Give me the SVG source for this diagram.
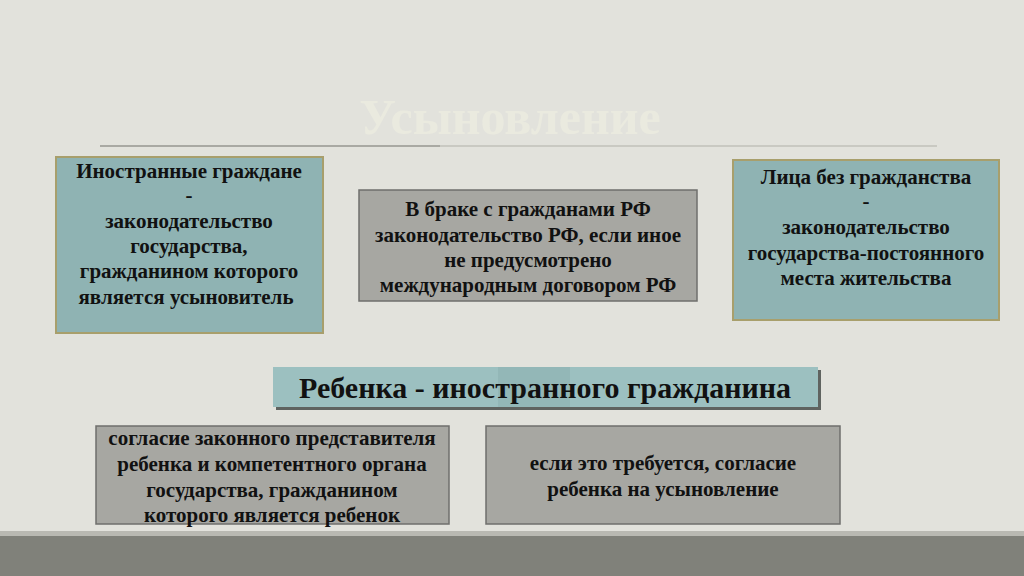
<svg xmlns="http://www.w3.org/2000/svg" width="1024" height="576" viewBox="0 0 1024 576">
<defs>
<style>
.t{font-family:"Liberation Serif","Times New Roman",serif;font-weight:bold;fill:#111;text-anchor:middle}
.s17{font-size:21px}
.teal{fill:#8fb3b3;stroke:#a89f6c;stroke-width:2}
.gray{fill:#a7a7a2;stroke:#6f6f6c;stroke-width:1.5}
</style>
</defs>
<rect x="0" y="0" width="1024" height="576" fill="#e2e2dc"/>
<rect x="0" y="531" width="1024" height="5" fill="#b9b9b2"/>
<rect x="0" y="536" width="1024" height="40" fill="#80817a"/>
<text x="510" y="134" class="t" style="font-size:50px;fill:#eaeadf">Усыновление</text>
<line x1="100" y1="146" x2="440" y2="146" stroke="#a9a9a3" stroke-width="2"/>
<line x1="440" y1="146" x2="937" y2="146" stroke="#c0c0ba" stroke-width="1.5"/>
<g id="node-foreign">
<rect x="56" y="157" width="267" height="176" class="teal"/>
<text class="t s17" x="189" y="178">Иностранные граждане</text>
<text class="t s17" x="189" y="202">-</text>
<text class="t s17" x="189" y="228">законодательство</text>
<text class="t s17" x="189" y="253">государства,</text>
<text class="t s17" x="189" y="278">гражданином которого</text>
<text class="t s17" x="186" y="304">является усыновитель</text>
</g>
<g id="node-marriage">
<rect x="359" y="190" width="338" height="111" class="gray"/>
<text class="t s17" x="528" y="216">В браке с гражданами РФ</text>
<text class="t s17" x="528" y="242">законодательство РФ, если иное</text>
<text class="t s17" x="528" y="267">не предусмотрено</text>
<text class="t s17" x="528" y="292">международным договором РФ</text>
</g>
<g id="node-stateless">
<rect x="733" y="160" width="266" height="160" class="teal"/>
<text class="t s17" x="866" y="184">Лица без гражданства</text>
<text class="t s17" x="866" y="208">-</text>
<text class="t s17" x="866" y="234">законодательство</text>
<text class="t s17" x="866" y="260">государства-постоянного</text>
<text class="t s17" x="866" y="285">места жительства</text>
</g>
<g id="node-child">
<rect x="276" y="370" width="545" height="40" fill="#5f6360"/>
<rect x="273" y="367" width="545" height="40" fill="#9cc0c0"/>
<rect x="498" y="367" width="72" height="40" fill="#93b7b7"/>
<text class="t" style="font-size:30px" x="545" y="398">Ребенка - иностранного гражданина</text>
</g>
<g id="node-consent-rep">
<rect x="96" y="426" width="353" height="98" class="gray"/>
<text class="t s17" x="272" y="445">согласие законного представителя</text>
<text class="t s17" x="272" y="471">ребенка и компетентного органа</text>
<text class="t s17" x="272" y="497">государства, гражданином</text>
<text class="t s17" x="272" y="522">которого является ребенок</text>
</g>
<g id="node-consent-child">
<rect x="486" y="426" width="354" height="98" class="gray"/>
<text class="t s17" x="663" y="470">если это требуется, согласие</text>
<text class="t s17" x="663" y="496">ребенка на усыновление</text>
</g>
<g id="connectors"></g>
</svg>
